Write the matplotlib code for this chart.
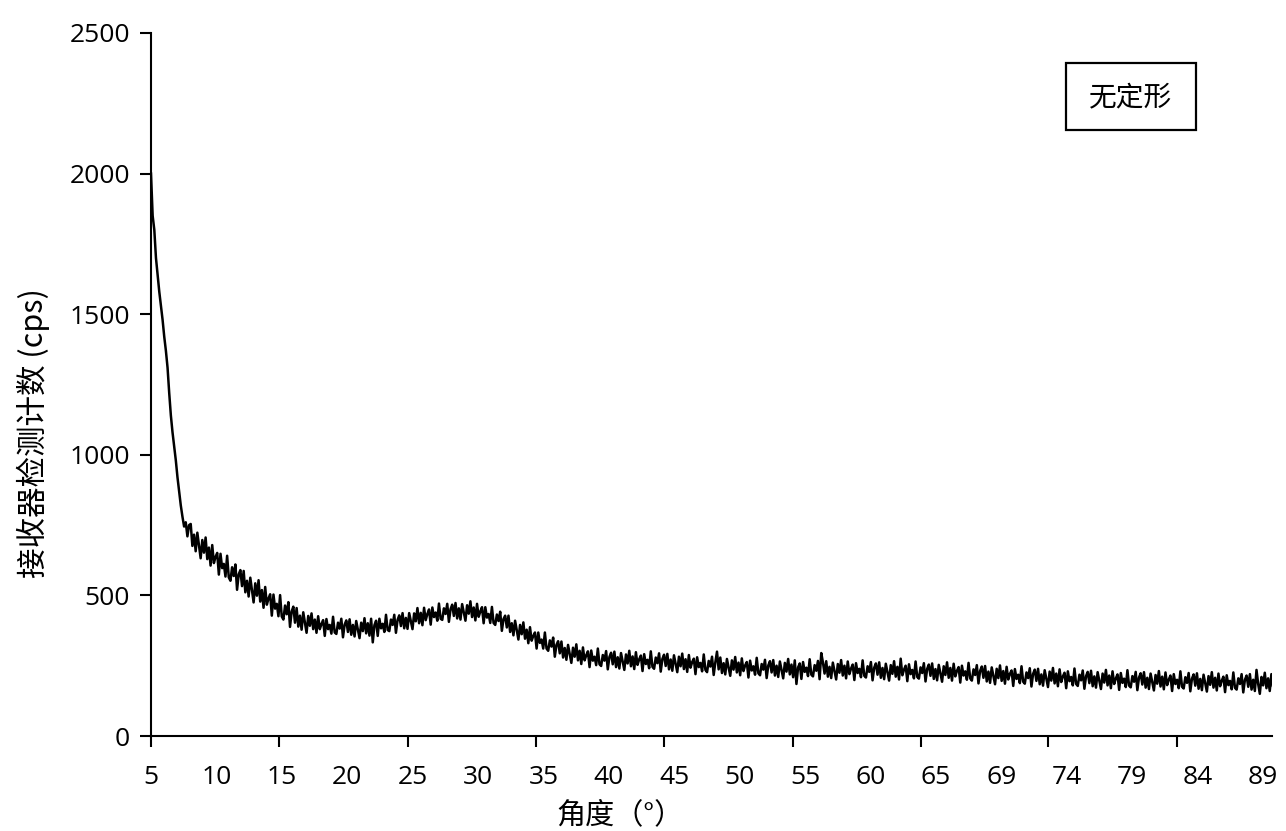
import numpy as np
import matplotlib
matplotlib.use('Agg')
import matplotlib.pyplot as plt
from matplotlib.patches import Rectangle

plt.rcParams['font.family'] = ['Open Sans', 'Noto Sans CJK SC', 'DejaVu Sans']

# 扫描角度 5° 起步长 0.125°，计数值读自原图（每行 1°）
counts = [
    2000, 1850, 1800, 1700, 1640, 1580, 1530, 1480,   # 5
    1420, 1370, 1310, 1220, 1140, 1080, 1030, 980,    # 6
    920, 870, 820, 780, 745, 760, 710, 750,           # 7
    754, 676, 716, 657, 723, 677, 632, 697,           # 8
    652, 706, 629, 670, 606, 679, 615, 637,           # 9
    651, 574, 648, 597, 612, 567, 641, 564,           # 10
    552, 600, 569, 610, 520, 575, 590, 533,
    587, 511, 552, 496, 563, 519, 475, 543,
    499, 554, 478, 519, 456, 530, 467, 489,
    504, 428, 503, 453, 470, 426, 501, 425,
    414, 464, 433, 476, 388, 443, 460, 403,           # 15
    455, 389, 428, 378, 440, 403, 367, 427,
    392, 436, 380, 414, 367, 426, 380, 398,
    412, 356, 416, 380, 395, 364, 424, 368,
    363, 403, 382, 417, 351, 396, 411, 370,
    415, 360, 395, 354, 409, 379, 348, 403,           # 20
    373, 419, 365, 401, 357, 417, 333, 394,
    410, 356, 417, 383, 399, 370, 431, 377,
    373, 414, 395, 431, 367, 413, 429, 391,
    437, 383, 420, 381, 437, 409, 380, 436,
    408, 455, 401, 438, 394, 456, 412, 434,           # 25
    450, 396, 457, 423, 439, 410, 471, 417,
    413, 454, 434, 470, 406, 451, 467, 427,
    473, 418, 454, 414, 469, 439, 410, 465,
    435, 479, 423, 457, 411, 470, 424, 443,
    458, 401, 458, 421, 434, 402, 459, 402,           # 30
    395, 432, 409, 442, 374, 416, 428, 386,
    428, 370, 401, 358, 410, 377, 343, 395,
    362, 404, 346, 378, 330, 387, 339, 356,
    368, 311, 368, 331, 343, 311, 368, 311,
    303, 340, 318, 350, 282, 324, 337, 294,           # 35
    336, 279, 313, 271, 324, 292, 260, 314,
    282, 326, 269, 303, 256, 315, 269, 287,
    301, 245, 304, 268, 282, 252, 311, 255,
    249, 288, 268, 302, 237, 281, 296, 255,
    300, 245, 280, 240, 295, 265, 235, 290,           # 40
    258, 303, 248, 283, 238, 298, 253, 273,
    286, 231, 291, 256, 271, 241, 301, 246,
    239, 279, 259, 294, 229, 274, 289, 249,
    292, 237, 272, 232, 287, 257, 227, 282,
    248, 293, 238, 273, 228, 288, 243, 263,           # 45
    275, 220, 280, 245, 260, 230, 290, 235,
    227, 267, 247, 282, 217, 262, 300, 237,
    279, 224, 259, 219, 274, 244, 214, 269,
    236, 281, 226, 261, 216, 276, 231, 251,
    263, 208, 268, 233, 248, 218, 278, 223,           # 50
    216, 256, 236, 271, 206, 251, 266, 226,
    270, 215, 250, 210, 265, 235, 205, 260,
    229, 274, 219, 254, 209, 269, 185, 244,
    258, 203, 263, 228, 243, 213, 273, 218,
    212, 252, 232, 267, 202, 295, 262, 222,           # 55
    266, 211, 246, 206, 261, 231, 201, 256,
    225, 270, 215, 250, 205, 265, 220, 240,
    254, 199, 259, 224, 239, 209, 269, 214,
    208, 248, 228, 263, 198, 243, 258, 218,
    262, 207, 242, 202, 257, 227, 197, 252,           # 60
    221, 266, 211, 246, 201, 275, 216, 236,
    250, 195, 255, 220, 235, 205, 265, 210,
    204, 244, 224, 259, 194, 239, 254, 214,
    258, 203, 238, 198, 253, 223, 193, 248,
    217, 262, 207, 242, 197, 257, 212, 232,           # 65
    245, 190, 250, 215, 230, 200, 260, 205,
    197, 237, 217, 252, 187, 232, 247, 207,
    249, 194, 229, 189, 244, 214, 184, 239,
    206, 251, 196, 231, 186, 246, 201, 221,
    233, 178, 238, 203, 218, 188, 248, 193,           # 70
    186, 226, 206, 241, 176, 221, 236, 196,
    239, 184, 219, 179, 234, 204, 174, 229,
    197, 242, 187, 222, 177, 237, 192, 212,
    225, 170, 230, 195, 210, 180, 240, 185,
    178, 218, 198, 233, 168, 213, 228, 188,           # 75
    232, 177, 212, 172, 227, 197, 167, 222,
    190, 235, 180, 215, 170, 230, 185, 205,
    219, 164, 224, 189, 204, 174, 234, 179,
    173, 213, 193, 228, 163, 208, 223, 183,
    227, 172, 207, 167, 222, 192, 162, 217,           # 80
    186, 231, 176, 211, 166, 226, 181, 201,
    215, 160, 220, 185, 200, 170, 230, 175,
    169, 209, 189, 224, 159, 204, 219, 179,
    223, 168, 203, 163, 218, 188, 158, 213,
    182, 227, 172, 207, 162, 222, 177, 197,           # 85
    211, 156, 216, 181, 196, 166, 226, 171,
    165, 205, 185, 220, 155, 200, 215, 175,
    220, 165, 200, 160, 235, 185, 150, 210,
    180, 225, 170, 205, 160, 220, 175, 195,
]
angle = 5 + 0.125 * np.arange(len(counts))

x_labels = ['5', '10', '15', '20', '25', '30', '35', '40', '45', '50',
            '55', '60', '65', '69', '74', '79', '84', '89']
x_tick_marks = [5, 14.67, 24.4, 34.06, 43.73, 53.49, 63.16, 72.75, 82.49]
y_ticks = [0, 500, 1000, 1500, 2000, 2500]

W, H = 1286, 831
fig = plt.figure(figsize=(W / 100, H / 100), dpi=100)
ax = fig.add_axes([151 / W, 1 - 736 / H, (1272 - 151) / W, (736 - 33) / H])

ax.plot(angle, counts, color='black', lw=1.8)

ax.set_xlim(5, 89.67)
ax.set_ylim(0, 2500)
ax.set_yticks(y_ticks)
ax.xaxis.remove_overlapping_locs = False
ax.set_xticks(x_tick_marks, labels=[''] * len(x_tick_marks))
ax.set_xticks(np.linspace(5, 89, len(x_labels)), labels=x_labels, minor=True)

for s in ['top', 'right']:
    ax.spines[s].set_visible(False)
for s in ['left', 'bottom']:
    ax.spines[s].set_linewidth(1.5)

ax.tick_params(axis='both', which='major', direction='out', length=8, width=1.5,
               labelsize=19, pad=7)
ax.tick_params(axis='x', which='minor', length=0, labelsize=19, pad=21)

cjk = ['Noto Sans CJK SC', 'DejaVu Sans']
fig.text(33 / W, 1 - 433 / H, '接收器检测计数 (cps)', rotation=90, ha='center', va='center',
         fontsize=22, family=cjk, color='black')
fig.text(620 / W, 1 - 815 / H, '角度（°）', ha='center', va='center',
         fontsize=21, family=cjk, color='black')

fig.patches.append(Rectangle((1066 / W, 1 - 130 / H), 130 / W, 67 / H,
                             transform=fig.transFigure, fill=False, lw=1.6, ec='black'))
fig.text(1131 / W, 1 - 97 / H, '无定形', ha='center', va='center',
         fontsize=20, family=cjk, color='black')

fig.savefig('out.png', dpi=100, facecolor='white')
